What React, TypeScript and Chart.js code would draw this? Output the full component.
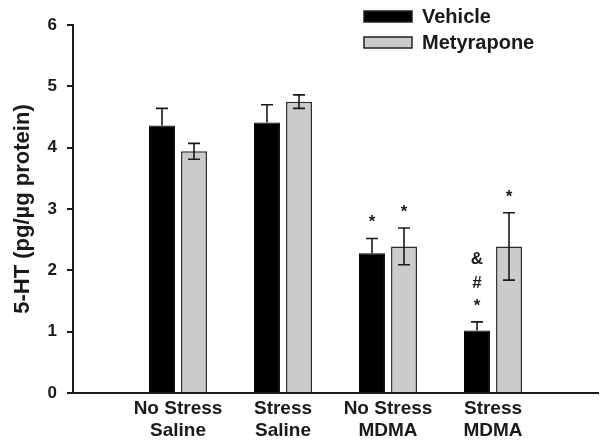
import React, { useEffect, useRef } from 'react';
import { Chart, registerables } from 'chart.js';

Chart.register(...registerables);

// ---- data ----
const categories: (string | string[])[] = [
  '',
  ['No Stress', 'Saline'],
  ['Stress', 'Saline'],
  ['No Stress', 'MDMA'],
  ['Stress', 'MDMA'],
  '',
];
const seriesNames = ['Vehicle', 'Metyrapone'];
const vehicle = [null, 4.36, 4.41, 2.28, 1.02, null];
const vehicleErr = [null, 0.28, 0.29, 0.24, 0.14, null];
const metyrapone = [null, 3.94, 4.75, 2.39, 2.39, null];
const metyraponeErr = [null, 0.13, 0.11, 0.3, 0.55, null];
const vehicleMarks: string[][] = [[], [], [], ['*'], ['*', '#', '&'], []];
const metyraponeMarks: string[][] = [[], [], [], ['*'], ['*'], []];
const yTicks = [0, 1, 2, 3, 4, 5, 6];
const yTitle = '5-HT (pg/\u00b5g protein)';

const FONT = "'Liberation Sans', Arial, sans-serif";
const colors = { vehicle: '#000000', metyrapone: '#cbcbcb' };

const errors = [vehicleErr, metyraponeErr];
const errorBoth = [false, true];
const marks = [vehicleMarks, metyraponeMarks];
const markOffsets = [11, 34, 58];

const errorBarPlugin = {
  id: 'errorBars',
  afterDatasetsDraw(chart: any) {
    const ctx = chart.ctx;
    const yScale = chart.scales.y;
    chart.data.datasets.forEach((ds: any, di: number) => {
      const meta = chart.getDatasetMeta(di);
      meta.data.forEach((bar: any, i: number) => {
        const v = ds.data[i];
        const e = errors[di][i];
        if (v == null || e == null) return;
        const x = bar.x;
        const yTop = yScale.getPixelForValue(v + e);
        const yBot = errorBoth[di] ? yScale.getPixelForValue(v - e) : yScale.getPixelForValue(v);
        ctx.save();
        ctx.strokeStyle = '#1a1a1a';
        ctx.lineWidth = 1.6;
        ctx.beginPath();
        ctx.moveTo(x, yTop);
        ctx.lineTo(x, yBot);
        ctx.moveTo(x - 6, yTop);
        ctx.lineTo(x + 6, yTop);
        if (errorBoth[di]) {
          ctx.moveTo(x - 6, yBot);
          ctx.lineTo(x + 6, yBot);
        }
        ctx.stroke();
        const m = marks[di][i] || [];
        ctx.fillStyle = '#1a1a1a';
        ctx.textAlign = 'center';
        ctx.textBaseline = 'alphabetic';
        ctx.font = `bold 17px ${FONT}`;
        m.forEach((t: string, k: number) => {
          ctx.fillText(t, x, yTop - markOffsets[k]);
        });
        ctx.restore();
      });
    });
  },
};

const legendPlugin = {
  id: 'customLegend',
  afterDraw(chart: any) {
    const ctx = chart.ctx;
    chart.data.datasets.forEach((ds: any, di: number) => {
      const bx = 364;
      const by = 11 + di * 26;
      ctx.save();
      ctx.fillStyle = ds.backgroundColor;
      ctx.strokeStyle = '#222';
      ctx.lineWidth = 1.5;
      ctx.fillRect(bx, by, 48, 11);
      ctx.strokeRect(bx, by, 48, 11);
      ctx.fillStyle = '#1a1a1a';
      ctx.font = `bold 20px ${FONT}`;
      ctx.textAlign = 'left';
      ctx.textBaseline = 'middle';
      ctx.fillText(ds.label, 422, by + 6);
      ctx.restore();
    });
  },
};

export default function App() {
  const ref = useRef<HTMLCanvasElement>(null);
  useEffect(() => {
    if (!ref.current) return;
    const chart = new Chart(ref.current, {
      type: 'bar',
      data: {
        labels: categories as any,
        datasets: [
          {
            label: seriesNames[0],
            data: vehicle as any,
            backgroundColor: colors.vehicle,
            borderColor: '#000',
            borderWidth: 1,
          },
          {
            label: seriesNames[1],
            data: metyrapone as any,
            backgroundColor: colors.metyrapone,
            borderColor: '#2a2a2a',
            borderWidth: 1.5,
          },
        ],
      },
      options: {
        animation: false,
        responsive: true,
        maintainAspectRatio: false,
        layout: { padding: { top: 25, right: 6, left: 0, bottom: 0 } },
        datasets: { bar: { categoryPercentage: 0.61, barPercentage: 0.81 } },
        plugins: { legend: { display: false }, tooltip: { enabled: false } },
        scales: {
          x: {
            type: 'category',
            offset: false,
            grid: { display: false, drawTicks: false },
            border: { display: true, color: '#1a1a1a', width: 2 },
            ticks: {
              color: '#1a1a1a',
              font: { family: FONT, size: 19, weight: 'bold', lineHeight: 1.2 },
              padding: 4,
              autoSkip: false,
              maxRotation: 0,
            },
            afterFit(scale: any) {
              scale.height = 50;
            },
          },
          y: {
            min: 0,
            max: 6,
            afterBuildTicks(scale: any) {
              scale.ticks = yTicks.map((v) => ({ value: v }));
            },
            grid: { drawOnChartArea: false, drawTicks: true, tickLength: 6, color: '#1a1a1a', lineWidth: 2 },
            border: { display: true, color: '#1a1a1a', width: 2 },
            ticks: {
              color: '#1a1a1a',
              font: { family: FONT, size: 17, weight: 'bold' },
              padding: 10,
            },
            title: {
              display: true,
              text: yTitle,
              color: '#1a1a1a',
              font: { family: FONT, size: 22, weight: 'bold' },
              padding: { top: 10, bottom: 0 },
            },
            afterFit(scale: any) {
              scale.width = 73;
            },
          },
        },
      },
      plugins: [errorBarPlugin, legendPlugin],
    } as any);
    return () => chart.destroy();
  }, []);
  return (
    <div style={{ position: 'absolute', left: 0, top: 0, width: 604, height: 443, background: '#fff' }}>
      <canvas ref={ref} />
    </div>
  );
}
